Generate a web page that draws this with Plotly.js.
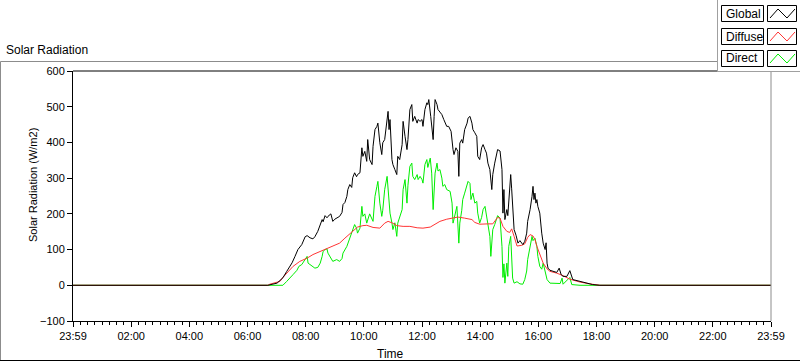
<!DOCTYPE html>
<html>
<head>
<meta charset="utf-8">
<script src="https://cdn.plot.ly/plotly-3.0.1.min.js"></script>
<style>html,body{margin:0;padding:0;background:#fff;}#chart{width:800px;height:361px;}</style>
</head>
<body>
<div id="chart"></div>
<script>
// Times are minutes of the day (0 = 23:59 of previous day, 1440 = 23:59)
const globalTime = [0,396,402,421,433,441,452,458,464,472,479,483,489,495,499,505,510,514,516,520,524,526,532,536,540,546,550,555,557,561,565,567,571,575,577,581,585,587,592,596,598,602,606,608,612,617,619,623,627,629,633,637,639,643,648,650,652,654,658,660,664,668,670,674,679,681,685,689,691,695,699,701,705,710,712,716,720,722,726,730,732,734,738,740,743,745,747,751,753,757,761,765,769,771,775,780,784,786,790,794,796,798,802,804,808,813,815,819,823,825,829,833,835,839,843,846,850,853,856,860,864,866,870,874,876,881,885,887,889,891,895,897,901,903,905,907,910,914,916,918,922,926,928,932,936,938,943,947,949,951,953,955,957,959,963,967,970,974,976,978,980,984,990,998,1003,1007,1011,1019,1025,1029,1031,1046,1060,1072,1087,1440];
const globalVals = [0,0,0,6,21,39,63,81,100,114,136,139,133,130,136,151,170,184,178,195,189,193,200,179,185,190,193,204,226,232,249,268,282,274,301,315,304,310,315,385,361,375,347,408,352,338,389,436,445,454,399,366,399,408,473,487,436,464,352,338,324,310,361,352,394,459,417,380,408,492,506,459,473,454,464,459,464,445,492,511,506,520,473,445,408,473,520,506,492,485,478,464,454,445,445,431,380,366,385,375,305,398,408,398,436,454,468,473,454,436,427,417,361,352,385,394,380,370,342,324,268,310,342,366,380,376,324,202,268,184,212,195,277,310,270,221,156,140,132,118,125,116,114,123,146,179,212,249,277,240,258,230,240,221,202,146,118,100,119,62,48,42,39,36,48,30,25,25,41,22,16,11,6,2,0,0];

const diffuseTime = [0,402,406,427,433,441,454,468,483,495,510,524,536,550,561,575,587,598,606,619,633,643,650,658,668,681,695,710,722,737,747,757,771,784,794,808,823,829,839,856,866,876,881,887,895,901,905,910,916,926,932,938,943,949,953,957,963,970,978,984,998,1011,1025,1046,1066,1087,1440];
const diffuseVals = [0,0,3,11,22,35,53,67,76,86,95,104,111,118,132,148,163,167,168,162,160,174,179,175,167,165,165,161,160,163,172,179,185,188,191,188,184,176,171,172,172,190,188,165,151,148,158,137,110,112,116,134,142,138,128,109,86,62,46,39,34,27,17,9,4,0,0];

const directTime = [0,433,441,448,454,462,466,472,479,483,485,489,493,499,505,510,514,516,520,524,526,530,536,544,550,555,557,565,571,577,581,585,587,592,596,598,602,606,612,619,623,627,629,633,637,639,643,648,650,654,658,660,664,668,670,674,679,681,685,689,691,695,699,701,705,710,712,716,720,722,726,730,732,737,740,743,745,747,751,753,757,761,763,767,771,778,782,784,786,790,792,796,798,802,804,808,813,815,819,821,823,825,829,833,835,839,843,846,850,853,856,860,862,864,866,870,874,876,881,885,887,889,891,895,897,899,903,905,907,910,916,922,928,932,936,938,943,947,949,953,957,959,963,967,970,974,978,984,1005,1009,1011,1025,1029,1046,1440];
const directVals = [0,0,11,20,30,42,53,58,72,81,62,58,53,48,50,62,81,95,100,102,90,81,67,72,67,75,90,109,132,151,170,160,146,160,221,193,200,174,200,179,249,277,291,230,193,210,268,305,270,202,174,156,175,137,174,190,212,268,296,230,280,333,342,305,296,310,296,305,296,286,338,352,330,356,314,212,280,314,342,320,324,300,277,282,268,263,230,174,185,216,221,118,174,210,240,258,282,291,285,240,250,258,230,235,202,174,190,212,221,195,165,137,81,130,156,170,184,195,188,109,22,60,6,62,25,109,137,70,20,6,10,4,3,16,40,72,114,137,125,132,109,81,53,45,62,35,16,6,5,20,3,22,2,0,0];

const seriesNames = ["Global","Diffuse","Direct"];
const seriesColors = ["#000000","#ff3434","#00ee00"];

const tickVals = [0,120,240,360,480,600,720,840,960,1080,1200,1320,1440];
const tickText = ["23:59","02:00","04:00","06:00","08:00","10:00","12:00","14:00","16:00","18:00","20:00","22:00","23:59"];

const L=73, R=771, T=71, B=321;
function px(X){return (X-L)/(R-L);}
function py(Y){return (B-Y)/(B-T);}

const traces = [
  {x: directTime, y: directVals, name: seriesNames[2], type:'scatter', mode:'lines', line:{color:seriesColors[2], width:1}},
  {x: diffuseTime, y: diffuseVals, name: seriesNames[1], type:'scatter', mode:'lines', line:{color:seriesColors[1], width:1}},
  {x: globalTime, y: globalVals, name: seriesNames[0], type:'scatter', mode:'lines', line:{color:seriesColors[0], width:1}}
];

const font = {family:'"Liberation Sans", Arial, sans-serif', size:11, color:'#000'};
const shapes = [];
const annotations = [];
// outer frame
shapes.push({type:'line', xref:'paper', yref:'paper', x0:px(0.5), x1:px(717), y0:py(61.5), y1:py(61.5), line:{color:'#8c8c8c', width:1}, layer:'above'});
shapes.push({type:'line', xref:'paper', yref:'paper', x0:px(0.5), x1:px(0.5), y0:py(61.5), y1:py(360.5), line:{color:'#8c8c8c', width:1}, layer:'above'});
shapes.push({type:'line', xref:'paper', yref:'paper', x0:px(0), x1:px(800), y0:py(360.5), y1:py(360.5), line:{color:'#000', width:1}, layer:'above'});
// plot frame: top black, right gray
shapes.push({type:'line', xref:'paper', yref:'paper', x0:0, x1:1, y0:1, y1:1, line:{color:'#000', width:1}, layer:'above'});
shapes.push({type:'line', xref:'paper', yref:'paper', x0:1, x1:1, y0:0, y1:1, line:{color:'#8c8c8c', width:1}, layer:'above'});
// legend box
shapes.push({type:'rect', xref:'paper', yref:'paper', x0:px(717.5), x1:px(801), y0:py(-1), y1:py(71.5), fillcolor:'#fff', line:{color:'#a0a0a0', width:1}, layer:'above'});
const legendY = [5,28,50];
for (let i=0;i<3;i++){
  const y0 = legendY[i], y1 = y0+17;
  shapes.push({type:'rect', xref:'paper', yref:'paper', x0:px(721.5), x1:px(763.5), y0:py(y0+0.5), y1:py(y1-0.5), fillcolor:'#fff', line:{color:'#000', width:1}, layer:'above'});
  shapes.push({type:'rect', xref:'paper', yref:'paper', x0:px(767.5), x1:px(796.5), y0:py(y0+0.5), y1:py(y1-0.5), fillcolor:'#fff', line:{color:'#000', width:1}, layer:'above'});
  const zig = [[770,y1-4],[778,y0+4],[787,y1-4],[795,y0+4]];
  const path = zig.map((p,k)=>(k?'L':'M')+px(p[0]).toFixed(5)+','+py(p[1]).toFixed(5)).join(' ');
  shapes.push({type:'path', xref:'paper', yref:'paper', path:path, line:{color:seriesColors[i], width:1}, layer:'above'});
  annotations.push({xref:'paper', yref:'paper', x:px(724), y:py((y0+y1)/2), xanchor:'left', yanchor:'middle', text:seriesNames[i], showarrow:false, font:{family:font.family, size:12, color:'#000'}});
}
annotations.push({xref:'paper', yref:'paper', x:px(4), y:py(50), xanchor:'left', yanchor:'middle', text:'Solar Radiation', showarrow:false, font:{family:font.family, size:12, color:'#000'}});
annotations.push({xref:'paper', yref:'paper', x:px(33), y:py(185), xanchor:'center', yanchor:'middle', textangle:-90, text:'Solar Radiation (W/m2)', showarrow:false, font:{family:font.family, size:11, color:'#000'}});
annotations.push({xref:'paper', yref:'paper', x:px(390), y:py(354), xanchor:'center', yanchor:'middle', text:'Time', showarrow:false, font:{family:font.family, size:12, color:'#000'}});

const layout = {
  width:800, height:361,
  margin:{l:L, r:800-R, t:T, b:361-B, pad:0},
  paper_bgcolor:'#fff', plot_bgcolor:'#fff',
  showlegend:false,
  font: font,
  xaxis:{range:[0,1440], tickmode:'array', tickvals:tickVals, ticktext:tickText, ticks:'outside', ticklen:5, tickcolor:'#000', showgrid:false, zeroline:false, showline:true, linecolor:'#000', linewidth:1, tickfont:font,
         minor:{tickmode:'linear', tick0:0, dtick:15, ticks:'outside', ticklen:3, tickcolor:'#000', showgrid:false}},
  yaxis:{range:[-100,600], tickmode:'linear', tick0:-100, dtick:100, ticks:'outside', ticklen:5, tickcolor:'#000', showgrid:false, zeroline:false, showline:true, linecolor:'#000', linewidth:1, tickfont:font},
  shapes: shapes,
  annotations: annotations
};
Plotly.newPlot('chart', traces, layout, {displayModeBar:false, staticPlot:true});
</script>
</body>
</html>
